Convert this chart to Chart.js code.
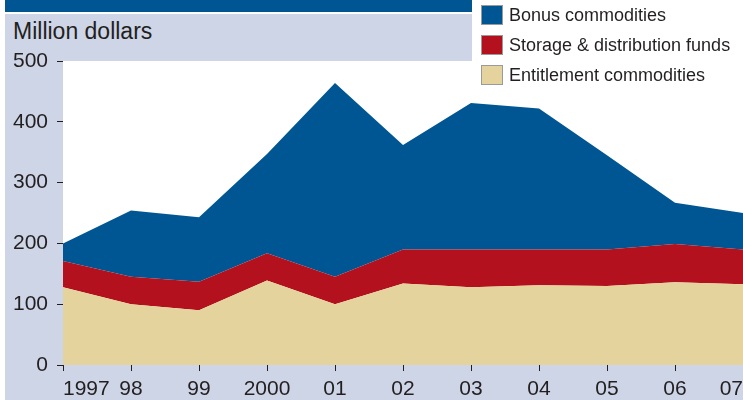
<!DOCTYPE html>
<html>
<head>
<meta charset="utf-8">
<script src="https://cdn.jsdelivr.net/npm/chart.js@4"></script>
<style>
  html, body { margin: 0; padding: 0; background: #fff; }
  #wrap { position: relative; width: 743px; height: 400px; overflow: hidden; font-family: "Liberation Sans", Arial, sans-serif; color: #231f20; }
  #panel { position: absolute; left: 5px; top: 14px; width: 738px; height: 386px; background: #cdd5e7; }
  #header { position: absolute; left: 5px; top: 0; width: 467px; height: 12px; background: #005693; }
  #legendBox { position: absolute; left: 472px; top: 0; width: 271px; height: 61px; background: #fff; }
  #unit { position: absolute; left: 13px; top: 20px; font-size: 23px; line-height: 23px; }
  #chart { position: absolute; left: 0; top: 0; }
  #legend { position: absolute; left: 481px; top: 5px; font-size: 18px; }
  .item { height: 30px; display: flex; align-items: flex-start; }
  .sw { width: 20px; height: 18px; border: 1px solid #9a9a9a; margin-right: 6px; }
  .lbl { line-height: 20px; margin-top: 0; }
</style>
</head>
<body>
<div id="wrap">
  <div id="panel"></div>
  <div id="header"></div>
  <div id="legendBox"></div>
  <div id="unit">Million dollars</div>
  <canvas id="chart" width="743" height="400"></canvas>
  <div id="legend"></div>
</div>
<script>
var years = ["1997", "98", "99", "2000", "01", "02", "03", "04", "05", "06", "07"];
var entitlement = [128, 100, 90, 139, 100, 134, 128, 131, 130, 136, 133];
var storage = [43, 45, 47, 45, 45, 56, 62, 59, 60, 63, 57];
var bonus = [29, 109, 106, 163, 319, 172, 241, 232, 155, 68, 60];
var yTicks = [0, 100, 200, 300, 400, 500];

var colBonus = "#005693";
var colStorage = "#b2111d";
var colEntitle = "#e4d39c";

// white plot background
var plotBg = {
  id: "plotBg",
  beforeDraw: function(chart) {
    var a = chart.chartArea;
    var ctx = chart.ctx;
    ctx.save();
    ctx.fillStyle = "#fff";
    ctx.fillRect(a.left, a.top, a.right - a.left, a.bottom - a.top);
    ctx.restore();
  }
};

function area(label, data, color, fill) {
  return {
    label: label,
    data: data,
    backgroundColor: color,
    borderColor: color,
    borderWidth: 0,
    pointRadius: 0,
    tension: 0,
    fill: fill
  };
}

var tickFont = { family: "'Liberation Sans', Arial, sans-serif", size: 21 };

new Chart(document.getElementById("chart").getContext("2d"), {
  type: "line",
  data: {
    labels: years,
    datasets: [
      area("Entitlement commodities", entitlement, colEntitle, "origin"),
      area("Storage & distribution funds", storage, colStorage, "-1"),
      area("Bonus commodities", bonus, colBonus, "-1")
    ]
  },
  options: {
    responsive: false,
    animation: false,
    layout: { padding: { top: 61, right: 0, left: 0, bottom: 0 } },
    plugins: { legend: { display: false }, tooltip: { enabled: false } },
    scales: {
      x: {
        offset: false,
        border: { display: false },
        grid: { drawOnChartArea: false, tickLength: 6, color: "#231f20", tickColor: "#231f20" },
        ticks: { font: tickFont, color: "#231f20", padding: 6, maxRotation: 0, autoSkip: false, align: "inner" },
        afterFit: function(s) { s.height = 35; s.paddingLeft = 0; s.paddingRight = 0; }
      },
      y: {
        stacked: true,
        min: 0,
        max: 500,
        border: { display: false },
        grid: { drawOnChartArea: false, tickLength: 6, color: "#231f20", tickColor: "#231f20" },
        ticks: { font: tickFont, color: "#231f20", padding: 9, stepSize: 100 },
        afterBuildTicks: function(s) { s.ticks = yTicks.map(function(v) { return { value: v }; }); },
        afterFit: function(s) { s.width = 63; s.paddingTop = 0; s.paddingBottom = 0; }
      }
    }
  },
  plugins: [plotBg]
});

// legend, top item first
var items = [["Bonus commodities", colBonus], ["Storage & distribution funds", colStorage], ["Entitlement commodities", colEntitle]];
var lg = document.getElementById("legend");
items.forEach(function(it) {
  var d = document.createElement("div");
  d.className = "item";
  d.innerHTML = '<div class="sw" style="background:' + it[1] + '"></div><div class="lbl">' + it[0] + '</div>';
  lg.appendChild(d);
});
</script>
</body>
</html>
